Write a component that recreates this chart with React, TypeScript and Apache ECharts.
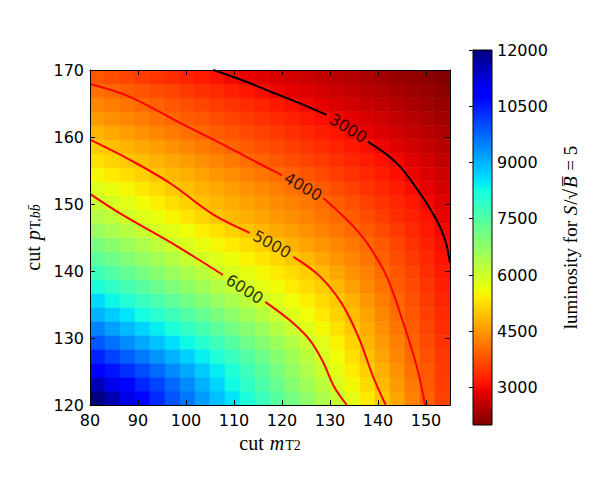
import React, { useEffect, useRef } from "react";
import * as echarts from "echarts";

// ---------- axes ----------
const X_MIN = 80;
const X_MAX = 155;
const Y_MIN = 120;
const Y_MAX = 170;
const N_COLS = 24;
const N_ROWS = 24;
const X_STEP = (X_MAX - X_MIN) / N_COLS;
const Y_STEP = (Y_MAX - Y_MIN) / N_ROWS;

const xTicks = [80, 90, 100, 110, 120, 130, 140, 150];
const yTicks = [120, 130, 140, 150, 160, 170];
const colorbarTicks = [3000, 4500, 6000, 7500, 9000, 10500, 12000];
const colorRange = [2000, 12000];

// ---------- luminosity grid (row 0 = bottom, y = 120; column 0 = left, x = 80) ----------
const lumByRow: number[][] = [
  [12000, 11560, 11110, 10710, 10330, 9940, 9590, 9230, 8870, 8510, 8150, 7790, 7440, 7090, 6760, 6430, 6100, 5740, 5380, 5010, 4640, 4270, 3920, 3600],
  [11500, 11060, 10720, 10400, 10090, 9740, 9380, 9020, 8660, 8290, 7930, 7580, 7220, 6870, 6550, 6220, 5880, 5540, 5210, 4870, 4530, 4190, 3860, 3560],
  [10860, 10570, 10280, 10000, 9690, 9390, 9090, 8760, 8440, 8110, 7760, 7400, 7050, 6710, 6380, 6050, 5720, 5400, 5070, 4750, 4430, 4100, 3810, 3520],
  [10420, 10100, 9820, 9550, 9280, 9010, 8710, 8410, 8110, 7800, 7500, 7190, 6880, 6550, 6230, 5900, 5590, 5270, 4950, 4640, 4330, 4020, 3750, 3480],
  [9910, 9640, 9370, 9100, 8840, 8570, 8310, 8050, 7760, 7470, 7180, 6890, 6610, 6340, 6060, 5760, 5460, 5150, 4840, 4540, 4240, 3940, 3690, 3440],
  [9450, 9180, 8920, 8660, 8410, 8160, 7900, 7640, 7380, 7130, 6860, 6590, 6330, 6060, 5800, 5540, 5280, 5020, 4730, 4430, 4140, 3870, 3630, 3390],
  [9000, 8750, 8500, 8240, 7990, 7750, 7500, 7260, 7020, 6770, 6530, 6280, 6030, 5810, 5590, 5370, 5140, 4900, 4620, 4330, 4050, 3810, 3570, 3340],
  [8600, 8320, 8070, 7830, 7600, 7360, 7130, 6900, 6670, 6450, 6230, 6000, 5810, 5610, 5420, 5220, 5030, 4770, 4500, 4230, 3970, 3740, 3520, 3290],
  [8160, 7920, 7680, 7450, 7210, 6980, 6760, 6550, 6330, 6120, 5920, 5750, 5580, 5400, 5230, 5060, 4840, 4600, 4370, 4130, 3900, 3680, 3460, 3240],
  [7770, 7510, 7290, 7060, 6850, 6640, 6430, 6220, 6020, 5850, 5700, 5540, 5380, 5220, 5070, 4880, 4660, 4450, 4240, 4030, 3820, 3610, 3390, 3180],
  [7380, 7150, 6940, 6730, 6520, 6310, 6110, 5930, 5780, 5630, 5480, 5320, 5170, 5020, 4850, 4660, 4480, 4300, 4120, 3920, 3720, 3510, 3300, 3090],
  [7030, 6820, 6620, 6410, 6200, 6000, 5840, 5690, 5540, 5390, 5240, 5090, 4930, 4780, 4630, 4480, 4320, 4170, 4020, 3830, 3630, 3440, 3240, 3050],
  [6650, 6460, 6270, 6080, 5910, 5760, 5600, 5440, 5290, 5130, 4980, 4840, 4700, 4570, 4430, 4290, 4160, 4020, 3850, 3680, 3510, 3330, 3160, 2990],
  [6340, 6170, 5990, 5820, 5660, 5490, 5320, 5160, 4990, 4870, 4750, 4630, 4510, 4390, 4270, 4140, 4020, 3870, 3710, 3550, 3390, 3240, 3080, 2910],
  [6070, 5910, 5750, 5580, 5420, 5260, 5100, 4950, 4840, 4730, 4610, 4500, 4380, 4270, 4150, 4040, 3900, 3750, 3590, 3440, 3290, 3140, 2990, 2840],
  [5820, 5680, 5520, 5360, 5210, 5050, 4920, 4800, 4690, 4570, 4450, 4340, 4220, 4100, 3990, 3850, 3710, 3580, 3440, 3310, 3170, 3040, 2900, 2760],
  [5520, 5380, 5250, 5110, 4980, 4860, 4750, 4630, 4510, 4390, 4280, 4160, 4040, 3920, 3800, 3680, 3550, 3430, 3310, 3190, 3070, 2940, 2810, 2670],
  [5280, 5160, 5030, 4910, 4790, 4670, 4550, 4420, 4300, 4180, 4060, 3950, 3840, 3730, 3620, 3520, 3410, 3300, 3190, 3080, 2970, 2840, 2710, 2580],
  [5050, 4930, 4810, 4690, 4570, 4440, 4320, 4200, 4080, 3960, 3860, 3760, 3660, 3560, 3460, 3360, 3260, 3160, 3060, 2950, 2840, 2720, 2610, 2490],
  [4810, 4690, 4570, 4450, 4330, 4210, 4090, 3980, 3880, 3790, 3690, 3590, 3500, 3400, 3300, 3210, 3110, 3010, 2910, 2810, 2710, 2610, 2500, 2400],
  [4540, 4430, 4330, 4220, 4110, 4000, 3900, 3810, 3720, 3620, 3530, 3430, 3340, 3250, 3150, 3060, 2960, 2870, 2770, 2680, 2580, 2490, 2390, 2300],
  [4320, 4220, 4120, 4020, 3920, 3820, 3730, 3630, 3540, 3440, 3340, 3250, 3150, 3060, 2960, 2880, 2800, 2710, 2630, 2550, 2460, 2380, 2290, 2210],
  [4090, 3990, 3900, 3800, 3700, 3610, 3510, 3410, 3320, 3220, 3130, 3030, 2950, 2870, 2800, 2720, 2650, 2570, 2500, 2420, 2350, 2270, 2200, 2120],
  [3820, 3730, 3640, 3540, 3450, 3360, 3270, 3180, 3080, 2990, 2920, 2860, 2790, 2720, 2650, 2580, 2510, 2440, 2380, 2310, 2240, 2170, 2100, 2030],
];

// ---------- contour lines (x, y), split where the inline label sits ----------
const contour3000a = [[105.7, 170], [112, 168.4], [117.5, 166.8], [123.5, 165.1], [129.3, 163.3]];
const contour3000b = [[137.9, 159.3], [143.9, 156.1], [148.75, 151.6], [152.2, 147.6], [154, 144.6], [155, 141.2]];
const contour4000a = [[80, 167.9], [88.3, 166], [98.75, 162.1], [107.1, 159.1], [114, 156.5], [120, 154.3]];
const contour4000b = [[128.6, 150.9], [132, 148.7], [135.2, 146.4], [138, 143.9], [141.8, 139.2], [145.3, 132.2], [148.1, 125.7], [149.8, 120]];
const contour5000a = [[80, 159.6], [88.3, 156.6], [96.7, 153.1], [105.7, 148.4], [113.3, 145.7]];
const contour5000b = [[122.4, 142.1], [127.9, 139.2], [132.4, 135.2], [135.9, 130.2], [139, 124.2], [141.6, 120]];
const contour6000a = [[80, 151.5], [86.25, 148.6], [96, 144.6], [102.2, 141.9], [107.7, 139.4]];
const contour6000b = [[116.5, 135.4], [121.7, 132.6], [125.8, 129.7], [128.5, 126.5], [130.8, 122.8], [133.5, 120]];

const contourLevels = [3000, 4000, 5000, 6000];
const contourLabelX = [133.8, 124.4, 117.9, 112.2];
const contourLabelY = [161.3, 152.6, 144.0, 137.3];
const contourLabelAngle = [-32, -30, -29, -32];

// ---------- colormap (matplotlib jet) ----------
function jet(s: number): string {
  const c = (v: number) => Math.round(Math.max(0, Math.min(1, v)) * 255);
  const r = s < 0.35 ? 0 : s < 0.66 ? (s - 0.35) / 0.31 : s < 0.89 ? 1 : 1 - (0.5 * (s - 0.89)) / 0.11;
  const g = s < 0.125 ? 0 : s < 0.375 ? (s - 0.125) / 0.25 : s < 0.64 ? 1 : s < 0.91 ? 1 - (s - 0.64) / 0.27 : 0;
  const b = s < 0.11 ? 0.5 + (0.5 * s) / 0.11 : s < 0.34 ? 1 : s < 0.65 ? 1 - (s - 0.34) / 0.31 : 0;
  return `rgb(${c(r)},${c(g)},${c(b)})`;
}
const N_STOPS = 200;
const jetRColors: string[] = [];
for (let k = 0; k <= N_STOPS; k++) jetRColors.push(jet(1 - k / N_STOPS));
const colorbarStops: { offset: number; color: string }[] = [];
for (let k = 0; k <= N_STOPS; k++) colorbarStops.push({ offset: k / N_STOPS, color: jet(k / N_STOPS) });

// ---------- build option ----------
const cellData: number[][] = [];
lumByRow.forEach((row, j) =>
  row.forEach((v, i) => cellData.push([X_MIN + i * X_STEP, Y_MIN + j * Y_STEP, v]))
);

const serif = "Liberation Serif";
const tickText = { fontFamily: "DejaVu Sans", fontSize: 16, color: "#000" };
const nameRich = {
  r: { fontFamily: serif, fontSize: 20, color: "#000", lineHeight: 24, verticalAlign: "bottom" },
  i: { fontFamily: serif, fontSize: 20, fontStyle: "italic", color: "#000", lineHeight: 24, verticalAlign: "bottom", padding: [0, 1, 0, 6] },
  s: { fontFamily: serif, fontSize: 14, color: "#000", lineHeight: 11, verticalAlign: "bottom" },
  si: { fontFamily: serif, fontSize: 14, fontStyle: "italic", color: "#000", lineHeight: 11, verticalAlign: "bottom" },
  cr: { fontFamily: serif, fontSize: 19, color: "#000", lineHeight: 24, verticalAlign: "bottom" },
  ci: { fontFamily: serif, fontSize: 19, fontStyle: "italic", color: "#000", lineHeight: 24, verticalAlign: "bottom", padding: [0, 1, 0, 1] },
};
const frameLine = { show: true, onZero: false, lineStyle: { color: "#000", width: 1 } };
const innerTick = (vals: number[]) => ({ show: true, inside: true, length: 5, lineStyle: { color: "#000", width: 1 }, customValues: vals });

const contourSeries = [
  [3000, contour3000a], [3000, contour3000b],
  [4000, contour4000a], [4000, contour4000b],
  [5000, contour5000a], [5000, contour5000b],
  [6000, contour6000a], [6000, contour6000b],
].map(([level, pts]) => ({
  type: "line",
  xAxisIndex: 0,
  yAxisIndex: 0,
  data: pts as number[][],
  symbol: "none",
  showSymbol: false,
  smooth: 0.35,
  clip: true,
  silent: true,
  z: 5,
  lineStyle: { color: level === 3000 ? "#000" : "#ff0000", width: 2 },
}));

const labelItems = contourLevels.map((lv, k) => ({
  value: [contourLabelX[k], contourLabelY[k], lv],
  label: { rotate: contourLabelAngle[k] },
}));

const option: any = {
  animation: false,
  grid: [
    { left: 90, top: 70, width: 360, height: 335, outerBoundsMode: "none" },
    { left: 473, top: 50, width: 19, height: 375, outerBoundsMode: "none" },
  ],
  visualMap: [
    { type: "continuous", show: false, min: colorRange[0], max: colorRange[1], dimension: 2, seriesIndex: 0, inRange: { color: jetRColors } },
  ],
  xAxis: [
    {
      gridIndex: 0, type: "value", min: X_MIN, max: X_MAX, interval: 10, position: "bottom", z: 10,
      axisLine: frameLine, axisTick: innerTick(xTicks),
      axisLabel: { ...tickText, margin: 7, customValues: xTicks },
      splitLine: { show: false },
      name: "{r|cut}{i|m}{s|T2}", nameLocation: "middle", nameGap: 20,
      nameTextStyle: { rich: nameRich },
    },
    {
      gridIndex: 0, type: "value", min: X_MIN, max: X_MAX, interval: 10, position: "top", z: 10,
      axisLine: frameLine, axisTick: innerTick(xTicks), axisLabel: { show: false }, splitLine: { show: false },
    },
    { gridIndex: 1, type: "value", min: 0, max: 1, show: false },
  ],
  yAxis: [
    {
      gridIndex: 0, type: "value", min: Y_MIN, max: Y_MAX, interval: 10, position: "left", z: 10,
      axisLine: frameLine, axisTick: innerTick(yTicks),
      axisLabel: { ...tickText, margin: 6, customValues: yTicks },
      splitLine: { show: false },
      name: "{r|cut}{i|p}{s|T,}{si|bb\u0304}", nameLocation: "middle", nameGap: 46, nameRotate: 90,
      nameTextStyle: { rich: nameRich },
    },
    {
      gridIndex: 0, type: "value", min: Y_MIN, max: Y_MAX, interval: 10, position: "right", z: 10,
      axisLine: frameLine, axisTick: innerTick(yTicks), axisLabel: { show: false }, splitLine: { show: false },
    },
    {
      gridIndex: 1, type: "value", min: colorRange[0], max: colorRange[1], position: "right", z: 10,
      axisLine: { show: false },
      axisTick: { show: true, inside: true, length: 4, lineStyle: { color: "#000" }, customValues: colorbarTicks },
      axisLabel: { ...tickText, margin: 5, customValues: colorbarTicks, formatter: (v: number) => String(v) },
      splitLine: { show: false },
      name: "{cr|luminosity for }{ci|S}{cr|/\u221a}{ci|B\u0305}{cr| = 5}", nameLocation: "middle", nameGap: 64, nameRotate: 90,
      nameTextStyle: { rich: nameRich },
    },
  ],
  series: [
    {
      type: "custom",
      xAxisIndex: 0,
      yAxisIndex: 0,
      clip: true,
      silent: true,
      z: 1,
      encode: { x: 0, y: 1 },
      data: cellData,
      renderItem: (params: any, api: any) => {
        const x0 = api.value(0);
        const y0 = api.value(1);
        const p0 = api.coord([x0, y0 + Y_STEP]);
        const p1 = api.coord([x0 + X_STEP, y0]);
        const color = api.visual("color");
        return {
          type: "rect",
          shape: { x: p0[0], y: p0[1], width: p1[0] - p0[0], height: p1[1] - p0[1] },
          style: { fill: color, stroke: color, lineWidth: 0.6 },
        };
      },
    },
    {
      type: "custom",
      xAxisIndex: 2,
      yAxisIndex: 2,
      silent: true,
      z: 1,
      data: [[0.5, (colorRange[0] + colorRange[1]) / 2]],
      renderItem: (params: any, api: any) => {
        const p0 = api.coord([0, colorRange[1]]);
        const p1 = api.coord([1, colorRange[0]]);
        return {
          type: "rect",
          shape: { x: p0[0], y: p0[1], width: p1[0] - p0[0], height: p1[1] - p0[1] },
          style: {
            fill: new echarts.graphic.LinearGradient(0, 0, 0, 1, colorbarStops),
            stroke: "#000",
            lineWidth: 1,
          },
        };
      },
    },
    ...contourSeries,
    {
      type: "scatter",
      xAxisIndex: 0,
      yAxisIndex: 0,
      data: labelItems,
      symbol: "circle",
      symbolSize: 2,
      silent: true,
      z: 6,
      itemStyle: { color: "rgba(0,0,0,0)" },
      label: {
        show: true,
        position: "inside",
        formatter: (p: any) => String(p.value[2]),
        fontFamily: "DejaVu Sans",
        fontSize: 16,
        color: "#000",
      },
      labelLayout: { hideOverlap: false },
    },
  ],
};

export default function App() {
  const ref = useRef<HTMLDivElement>(null);
  useEffect(() => {
    document.body.style.margin = "0";
    const chart = echarts.init(ref.current!, null, { renderer: "svg" });
    chart.setOption(option);
    return () => chart.dispose();
  }, []);
  return <div ref={ref} style={{ width: 600, height: 500 }} />;
}
